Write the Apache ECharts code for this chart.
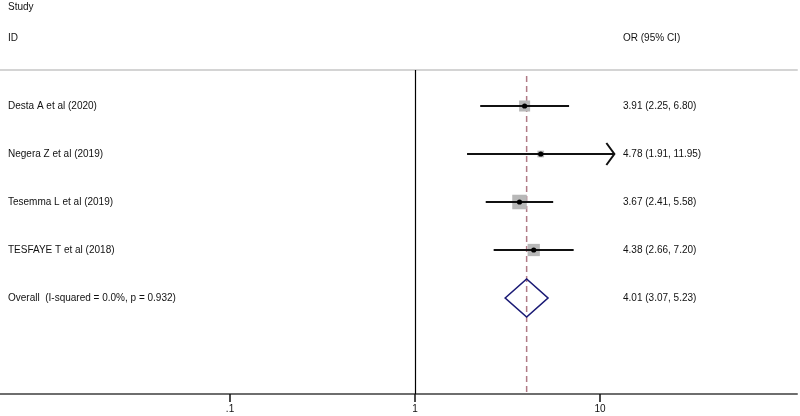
<!DOCTYPE html>
<html>
<head>
<meta charset="utf-8">
<script src="https://cdn.jsdelivr.net/npm/echarts@6/dist/echarts.min.js"></script>
<style>
  html, body { margin: 0; padding: 0; background: #fff; }
  #chart { width: 800px; height: 416px; }
</style>
</head>
<body>
<div id="chart"></div>
<script>
// ---- data ----
const studies = ['Desta A et al (2020)', 'Negera Z et al (2019)', 'Tesemma L et al (2019)', 'TESFAYE T et al (2018)'];
const orValues = [3.91, 4.78, 3.67, 4.38];
const ciLower = [2.25, 1.91, 2.41, 2.66];
const ciUpper = [6.80, 11.95, 5.58, 7.20];
const weights = [23.1, 8.4, 40.0, 28.5];
const overallLabel = 'Overall  (I-squared = 0.0%, p = 0.932)';
const overallOR = 4.01;
const overallLower = 3.07;
const overallUpper = 5.23;
const tickValues = [0.1, 1, 10];
const tickLabels = ['.1', '1', '10'];
const nullValue = 1;
const arrowLimit = 10;

// ---- layout helpers ----
const FONT = '10px "Liberation Sans", Arial, sans-serif';
const fmt = v => v.toFixed(2);
const orText = (o, l, h) => fmt(o) + ' (' + fmt(l) + ', ' + fmt(h) + ')';

const studyData = studies.map((s, i) => [orValues[i], i, ciLower[i], ciUpper[i], weights[i]]);
const labelData = studies.map((s, i) => ({ value: [orValues[i], i], name: s, right: orText(orValues[i], ciLower[i], ciUpper[i]) }));
labelData.push({ value: [overallOR, studies.length], name: overallLabel, right: orText(overallOR, overallLower, overallUpper) });

const Y_MIN = -0.75, Y_MAX = 6;

const chart = echarts.init(document.getElementById('chart'), null, { renderer: 'canvas' });

chart.setOption({
  animation: false,
  backgroundColor: '#ffffff',
  grid: { left: 0, right: 3, top: 70, bottom: 22 },
  xAxis: [{
    type: 'log',
    logBase: 10,
    min: 0.00571,
    max: 116,
    position: 'bottom',
    axisLine: { show: true, onZero: false, lineStyle: { color: '#6e6e6e', width: 2 } },
    axisTick: { show: true, length: 8, lineStyle: { color: '#111', width: 1.5 }, customValues: tickValues },
    axisLabel: {
      show: true, margin: 10, color: '#111', fontSize: 10, fontFamily: '"Liberation Sans", Arial, sans-serif',
      customValues: tickValues,
      formatter: v => { const i = tickValues.findIndex(t => Math.abs(t - v) < 1e-9 * Math.max(1, t)); return i >= 0 ? tickLabels[i] : ''; }
    },
    splitLine: { show: false },
    minorTick: { show: false }
  }, {
    type: 'log',
    logBase: 10,
    min: 0.00571,
    max: 116,
    position: 'top',
    axisLine: { show: true, onZero: false, lineStyle: { color: '#d4d4d4', width: 2 } },
    axisTick: { show: false },
    axisLabel: { show: false },
    splitLine: { show: false }
  }],
  yAxis: {
    type: 'value', inverse: true, min: Y_MIN, max: Y_MAX, show: false,
    splitLine: { show: false }
  },
  graphic: [
    { type: 'text', left: 8, top: 2, style: { text: 'Study', font: FONT, fill: '#111' } },
    { type: 'text', left: 8, top: 33, style: { text: 'ID', font: FONT, fill: '#111' } },
    { type: 'text', left: 623, top: 33, style: { text: 'OR (95% CI)', font: FONT, fill: '#111' } }
  ],
  series: [
    {
      // null line at OR = 1
      type: 'custom', xAxisIndex: 0, silent: true, clip: false,
      data: [[nullValue, 0]],
      renderItem: (params, api) => {
        const a = api.coord([api.value(0), Y_MIN]);
        const b = api.coord([api.value(0), Y_MAX]);
        return { type: 'line', shape: { x1: Math.round(a[0]) + 0.5, y1: a[1], x2: Math.round(b[0]) + 0.5, y2: b[1] },
          style: { stroke: '#000', lineWidth: 1.2 } };
      }
    },
    {
      // pooled estimate dashed line
      type: 'custom', xAxisIndex: 0, silent: true, clip: false,
      data: [[overallOR, 0]],
      renderItem: (params, api) => {
        const a = api.coord([api.value(0), Y_MIN + 0.125]);
        const b = api.coord([api.value(0), Y_MAX]);
        return { type: 'line', shape: { x1: a[0], y1: a[1], x2: b[0], y2: b[1] },
          style: { stroke: '#b07a86', lineWidth: 1.5, lineDash: [6, 4] } };
      }
    },
    {
      // study boxes, CIs and points
      type: 'custom', xAxisIndex: 0, silent: true, clip: false,
      data: studyData,
      renderItem: (params, api) => {
        const y = api.value(1);
        const p = api.coord([api.value(0), y]);
        const l = api.coord([api.value(2), y]);
        const h = api.coord([api.value(3), y]);
        const s = 2.3 * Math.sqrt(api.value(4));
        const children = [
          { type: 'rect', shape: { x: p[0] - s / 2, y: p[1] - s / 2, width: s, height: s }, style: { fill: '#b8b8b8' } },
          { type: 'line', shape: { x1: l[0], y1: p[1], x2: h[0], y2: p[1] }, style: { stroke: '#111', lineWidth: 2 } },
          { type: 'circle', shape: { cx: p[0], cy: p[1], r: 2.6 }, style: { fill: '#000' } }
        ];
        if (api.value(3) > arrowLimit) {
          children.push({ type: 'polyline', shape: { points: [[h[0] - 8, p[1] - 11], [h[0], p[1]], [h[0] - 8, p[1] + 11]] },
            style: { stroke: '#111', lineWidth: 2, fill: null } });
        }
        return { type: 'group', children };
      }
    },
    {
      // overall diamond
      type: 'custom', xAxisIndex: 0, silent: true, clip: false,
      data: [[overallOR, studies.length, overallLower, overallUpper]],
      renderItem: (params, api) => {
        const y = api.value(1);
        const p = api.coord([api.value(0), y]);
        const l = api.coord([api.value(2), y]);
        const h = api.coord([api.value(3), y]);
        const hh = 19;
        return { type: 'polygon', shape: { points: [[l[0], p[1]], [p[0], p[1] - hh], [h[0], p[1]], [p[0], p[1] + hh]] },
          style: { stroke: '#1a1a75', lineWidth: 1.6, fill: null } };
      }
    },
    {
      // text columns
      type: 'custom', xAxisIndex: 0, silent: true, clip: false,
      data: labelData,
      renderItem: (params, api) => {
        const p = api.coord([api.value(0), api.value(1)]);
        const item = labelData[params.dataIndex];
        return { type: 'group', children: [
          { type: 'text', style: { text: item.name, x: 8, y: p[1], font: FONT, fill: '#111', verticalAlign: 'middle', align: 'left' } },
          { type: 'text', style: { text: item.right, x: 623, y: p[1], font: FONT, fill: '#111', verticalAlign: 'middle', align: 'left' } }
        ] };
      }
    }
  ]
});
</script>
</body>
</html>
